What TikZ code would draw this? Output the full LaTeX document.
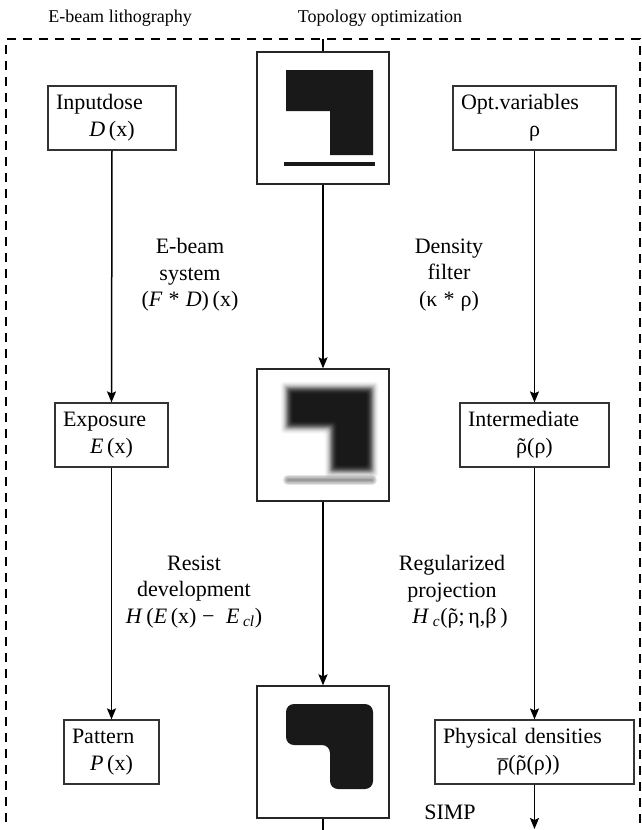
\documentclass[tikz,border=0pt]{standalone}
\usepackage{fontspec}
\setmainfont{Liberation Serif}
\usetikzlibrary{arrows.meta}

\tikzset{
  frameline/.style={line width=2pt, dash pattern=on 9pt off 7pt},
  flow/.style={line width=1.5pt, -{Stealth[length=11pt,width=9pt,inset=2pt]}},
  plain/.style={line width=1.5pt},
  box/.style={draw=black!80, line width=1.2pt, minimum height=64pt, inner xsep=8pt,
              align=center, font=\fontsize{22}{27}\selectfont},
  imgbox/.style={draw=black!85, line width=1.3pt, minimum width=132pt, minimum height=132pt, inner sep=0pt},
  lbl/.style={align=center, font=\fontsize{22}{26.5}\selectfont, inner sep=0pt},
  title/.style={font=\fontsize{18}{22}\selectfont, inner sep=0pt},
  ink/.style={fill=black!90}
}

% the L-shaped layout drawn in each image panel
\newcommand{\Lshape}{(-37,-48) -- (50,-48) -- (50,37) -- (7,37) -- (7,-7) -- (-37,-7) -- cycle}
% the same layout grown outwards by #1 (shrunk for negative #1)
\newcommand{\Loff}[1]{({-37-(#1)},{-48-(#1)}) -- ({50+(#1)},{-48-(#1)}) -- ({50+(#1)},{37+(#1)})
  -- ({7-(#1)},{37+(#1)}) -- ({7-(#1)},{-7+(#1)}) -- ({-37-(#1)},{-7+(#1)}) -- cycle}
% rho with a tilde or a bar set over it
\newcommand{\rhotilde}{\ooalign{ρ\cr\hidewidth˜\hidewidth\cr}}
\newcommand{\rhobar}{\ooalign{ρ\cr\hidewidth\raisebox{-0.2em}{¯}\hidewidth\cr}}

\begin{document}
\begin{tikzpicture}[x=1pt,y=-1pt]
\useasboundingbox (0,0) rectangle (642,830);

% column titles
\node[title] (t1) at (120,18) {E-beam lithography};
\node[title] (t2) at (380,18) {Topology optimization};

% dashed frame
\draw[frameline] (6,822) -- (6,39) -- (640,39) -- (640,830);

% left column: lithography chain
\node[box, text width=112pt] (dose) at (112,118)
  {\makebox[\linewidth][l]{Inputdose}\\\textit{D}\,(x)};
\node[box, text width=97pt] (expo) at (111.5,435)
  {\makebox[\linewidth][l]{Exposure}\\\textit{E}\,(x)};
\node[box, text width=79pt] (patt) at (111.5,752)
  {\makebox[\linewidth][l]{Pattern}\\\textit{P}\,(x)};

% right column: optimization chain
\node[box, text width=147pt] (optv) at (534.5,118)
  {\makebox[\linewidth][l]{Opt.variables}\\ρ};
\node[box, text width=133pt] (inter) at (534.5,435)
  {\makebox[\linewidth][l]{Intermediate}\\\rhotilde(ρ)};
\node[box, text width=183pt] (phys) at (534.5,752)
  {\makebox[\linewidth][l]{Physical densities}\\\hspace*{-12pt}\rhobar(\rhotilde(ρ))};

% centre column: image panels
\node[imgbox] (img1) at (323,118) {};
\node[imgbox] (img2) at (323,435) {};
\node[imgbox] (img3) at (323,752) {};

% sharp design
\begin{scope}[shift={(img1.center)}]
  \fill[ink] \Lshape;
  \draw[black!90, line width=4pt] (-39,46) -- (52,46);
\end{scope}

% blurred (filtered) design: nested offsets, darker towards the core
\begin{scope}[shift={(img2.center)}]
  \foreach \t/\a in {5.5/0.03, 4.5/0.041, 3.5/0.065, 2.5/0.092, 1.5/0.127, 0.5/0.174,
                     -0.5/0.246, -1.5/0.279, -2.5/0.323, -3.5/0.381, -4.5/0.46, -5.5/0.57} {
    \fill[black!90, opacity=\a, rounded corners=3pt] \Loff{\t};
  }
  \fill[ink, rounded corners=2pt] \Loff{-6.5};
  \foreach \i in {1,...,9} {
    \draw[black, line width=1.2*\i pt, opacity=0.055, line cap=round] (-35,45) -- (49,45);
  }
\end{scope}

% projected design with rounded corners
\begin{scope}[shift={(img3.center)}]
  \fill[ink, rounded corners=8pt] \Lshape;
\end{scope}

% process labels
\node[lbl] (lab1) at (190,275) {E-beam\\system\\(\textit{F}\;*\;\textit{D})\,(x)};
\node[lbl] (lab2) at (194,592) {Resist\\development\\\textit{H}\,(\textit{E}\,(x) − \;\textit{E}\,\textsubscript{\textit{cl}})};
\node[lbl] (lab3) at (449,275) {Density\\filter\\(κ\;*\;ρ)};
\node[lbl] (lab4) at (452,592) {Regularized\\projection\\\hspace*{16pt}\textit{H}\,\textsubscript{\textit{c}}(\rhotilde;\,η,β\,)};
\node[lbl] (simp) at (450,812) {SIMP};

% connectors
\coordinate (ctop) at (323,39);
\coordinate (cend) at (323,830);
\coordinate (rend) at (534.5,829);

\draw[flow] (dose.south) -- (expo.north);
\draw[flow] (expo.south) -- (patt.north);

\draw[plain] (ctop) -- (img1.north);
\draw[flow] (img1.south) -- (img2.north);
\draw[flow] (img2.south) -- (img3.north);
\draw[plain] (img3.south) -- (cend);

\draw[flow] (optv.south) -- (inter.north);
\draw[flow] (inter.south) -- (phys.north);
\draw[flow] (phys.south) -- (rend);
\end{tikzpicture}
\end{document}
